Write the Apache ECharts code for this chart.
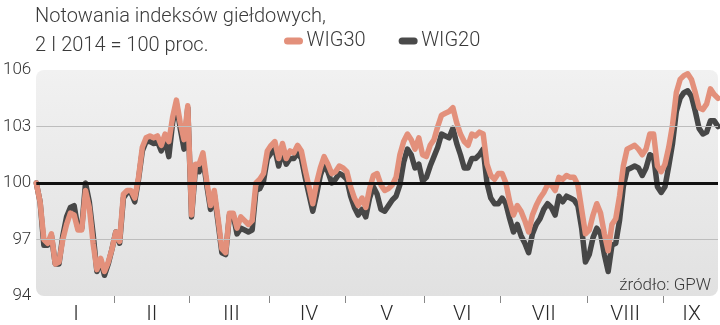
<!DOCTYPE html>
<html>
<head>
<meta charset="utf-8">
<script src="https://cdn.jsdelivr.net/npm/echarts@6/dist/echarts.min.js"></script>
<style>
html,body{margin:0;padding:0;background:#fff;}
#c{width:720px;height:325px;}
</style>
</head>
<body>
<div id="c"></div>
<script>
// Month labels and their positions (trading-day index)
var monthLabels = ['I','II','III','IV','V','VI','VII','VIII','IX'];
var monthLabelPos = [10.5, 30.5, 51.5, 72, 92.5, 112.5, 134, 155.5, 173];
var monthTickPos = [20.5, 40.5, 61.5, 81.5, 102.5, 122.5, 145.5, 165.5];
var yTicks = [94, 97, 100, 103, 106];
var gridLevels = [97, 103];
var baseLevel = 100;

// WIG30, trading days from 2 I 2014 (index 0) to ~19 IX 2014 (index 180)
var wig30 = [
100.0,99.0,97.0,96.8,97.3,95.7,95.8,97.0,97.8,98.4,
98.3,97.5,97.5,99.6,98.7,96.8,95.4,96.0,95.3,95.8,
96.5,97.4,96.9,99.4,99.6,99.6,99.2,100.3,101.9,102.4,
102.5,102.4,102.5,102.0,102.6,102.2,103.5,104.4,103.2,102.3,
104.1,98.3,101.0,101.0,101.6,100.1,98.8,99.6,98.1,96.5,
96.3,98.4,98.4,97.6,98.2,98.0,97.8,98.0,100.0,100.2,
100.5,101.7,102.0,102.2,101.3,102.1,101.3,101.7,101.6,102.0,
101.7,100.7,99.8,98.9,100.0,100.8,101.4,101.0,100.5,100.6,
100.9,100.8,100.6,99.8,99.2,98.8,99.2,98.7,99.7,100.4,
100.5,99.9,99.6,99.7,99.9,100.3,101.5,102.2,102.6,102.3,
101.8,102.4,101.5,101.4,102.0,102.3,103.0,103.6,103.7,103.8,
104.0,103.2,102.6,102.2,102.0,102.6,102.5,102.7,102.6,101.0,
100.4,100.2,100.5,100.5,100.0,99.0,98.3,98.8,98.5,98.0,
97.4,98.3,98.8,99.2,99.5,99.9,99.9,99.6,100.3,100.2,
100.4,100.3,100.3,99.9,98.6,97.3,97.5,98.3,98.9,98.4,
97.3,96.4,97.8,98.1,99.3,100.9,101.8,101.9,102.0,101.8,
101.5,101.8,102.6,102.6,100.9,100.6,101.0,101.9,103.1,104.8,
105.5,105.7,105.8,105.5,104.8,104.0,103.9,104.2,105.0,104.7,
104.5
];
// WIG20, same trading days
var wig20 = [
100.0,99.0,96.7,96.7,97.2,95.7,95.7,97.2,98.2,98.7,
98.8,97.6,97.6,100.0,99.0,97.3,95.3,95.9,95.1,95.7,
96.5,97.4,96.8,99.2,99.5,99.5,99.0,100.2,101.7,102.2,
102.2,102.1,102.2,101.7,102.3,101.4,103.2,104.2,102.9,101.8,
104.0,98.2,100.7,100.6,101.3,99.9,98.6,99.4,97.9,96.3,
96.2,98.3,98.3,97.3,97.6,97.5,97.4,97.5,99.6,99.7,
100.1,101.3,101.6,101.8,100.9,101.7,101.0,101.3,101.3,101.6,
101.3,100.3,99.4,98.5,99.4,100.4,101.0,100.6,100.0,100.2,
100.5,100.4,100.2,99.3,98.7,98.3,98.6,98.2,99.2,99.8,
99.4,98.6,98.5,98.8,99.1,99.3,99.9,101.1,101.8,101.5,
100.8,101.0,100.1,100.3,100.9,101.4,101.9,102.6,102.5,102.4,
102.9,102.1,101.5,100.8,100.8,101.3,101.3,101.5,101.8,100.0,
99.2,98.9,98.9,99.2,98.9,98.1,97.4,97.8,97.2,96.8,
96.3,97.3,97.8,98.1,98.6,98.9,98.7,98.3,99.3,99.0,
99.3,99.2,99.1,98.8,97.6,95.8,96.2,97.1,97.6,97.3,
96.2,95.3,96.7,96.8,98.0,99.8,100.7,100.8,100.9,100.8,
100.4,100.8,101.5,101.4,99.8,99.5,99.8,100.9,102.1,103.8,
104.5,104.8,104.9,104.6,103.8,102.9,102.6,102.7,103.3,103.3,
103.0
];

function toPairs(arr){ return arr.map(function(v,i){ return [i, v]; }); }

var GL = 36, GT = 70, GW = 682, GH = 226;
var chart = echarts.init(document.getElementById('c'), null, {renderer:'canvas'});
var font = 'Roboto, "DejaVu Sans", sans-serif';
var capsule = 'path://M3.5,0 L15.5,0 A3.5,3.5 0 0 1 15.5,7 L3.5,7 A3.5,3.5 0 0 1 3.5,0 Z';

chart.setOption({
  animation: false,
  textStyle: {fontFamily: font},
  title: {
    text: 'Notowania indeksów giełdowych,\n2 I 2014 = 100 proc.',
    left: 30, top: -3,
    textStyle: {fontSize: 20, fontWeight: 300, color: '#3a3a3a', lineHeight: 29, fontFamily: font}
  },
  legend: {
    data: [
      {name: 'WIG30', icon: capsule, itemStyle: {color: '#e3907b'}},
      {name: 'WIG20', icon: capsule, itemStyle: {color: '#4a4a4a'}}
    ],
    left: 279, top: 26,
    itemWidth: 20, itemHeight: 7, itemGap: 33,
    textStyle: {fontSize: 20, fontWeight: 300, color: '#3a3a3a', padding: [0,0,0,-2]}
  },
  graphic: [
    {type: 'rect', left: GL, top: GT, z: -10, silent: true,
     shape: {width: GW, height: GH, r: 8},
     style: {fill: new echarts.graphic.LinearGradient(0,0,0,1,[{offset:0,color:'#f1f1f1'},{offset:1,color:'#e1e1e1'}])}},
    {type: 'text', right: 9, top: 277, z: 10, silent: true,
     style: {text: 'źródło: GPW', fontSize: 17, fontWeight: 300, fill: '#3a3a3a', fontFamily: font}}
  ],
  grid: {left: GL, top: GT, width: GW, height: GH, containLabel: false},
  xAxis: {
    type: 'value', min: 0, max: wig30.length - 1,
    axisLine: {show: false},
    splitLine: {show: false},
    axisTick: {show: true, customValues: monthTickPos, length: 7, lineStyle: {color: '#888', width: 1}},
    axisLabel: {
      customValues: monthLabelPos, margin: 8, fontSize: 21, color: '#2a2a2a', fontWeight: 300,
      formatter: function(v){ var i = monthLabelPos.indexOf(v); return i >= 0 ? monthLabels[i] : ''; }
    }
  },
  yAxis: {
    type: 'value', min: yTicks[0], max: yTicks[yTicks.length-1], interval: 3,
    axisLine: {show: false}, axisTick: {show: false},
    splitLine: {show: false},
    axisLabel: {fontSize: 17, color: '#333', margin: 5, fontWeight: 300}
  },
  series: [
    {
      name: 'ref', type: 'line', data: [], z: 1, silent: true,
      markLine: {
        symbol: 'none', silent: true, label: {show: false},
        data: gridLevels.map(function(v){ return {yAxis: v, lineStyle: {color: '#bdbdbd', width: 1, type: 'solid'}}; })
          .concat([{yAxis: baseLevel, lineStyle: {color: '#111', width: 3, type: 'solid'}}])
      }
    },
    {
      name: 'WIG20', type: 'line', data: toPairs(wig20), showSymbol: false, z: 3,
      lineStyle: {color: '#474747', width: 5.5, cap: 'round', join: 'round'},
      itemStyle: {color: '#474747'}
    },
    {
      name: 'WIG30', type: 'line', data: toPairs(wig30), showSymbol: false, z: 4,
      lineStyle: {color: '#e3907b', width: 5.5, cap: 'round', join: 'round'},
      itemStyle: {color: '#e3907b'}
    }
  ]
});
</script>
</body>
</html>
